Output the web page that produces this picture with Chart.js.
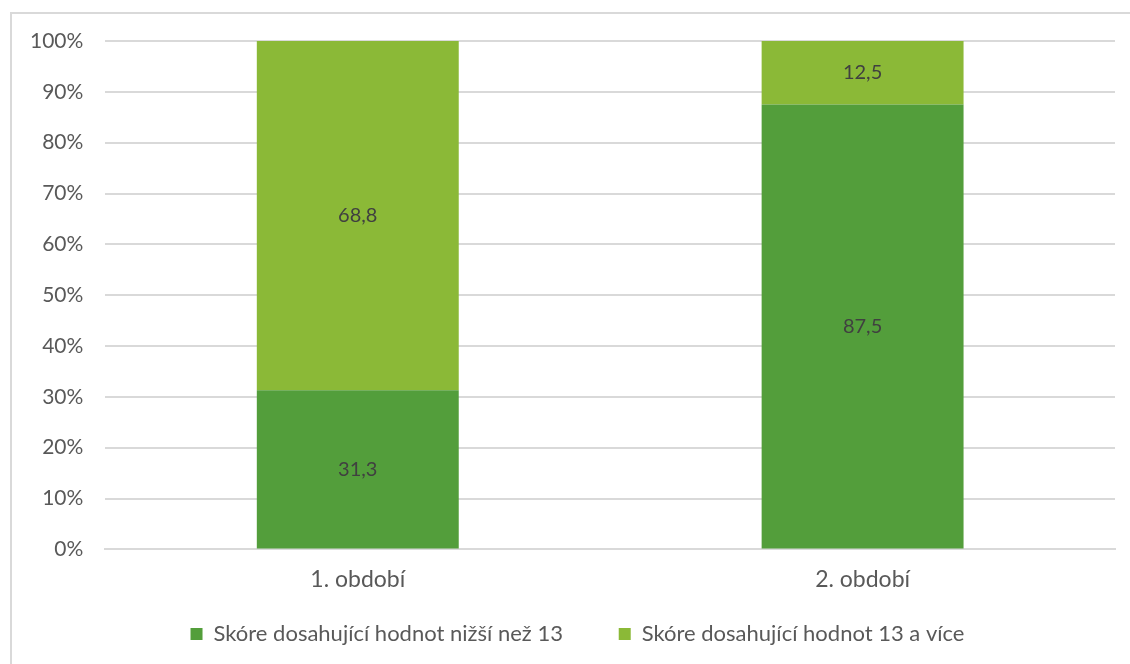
<!DOCTYPE html>
<html>
<head>
<meta charset="utf-8">
<script src="https://cdn.jsdelivr.net/npm/chart.js@4"></script>
<style>
  html, body { margin: 0; padding: 0; background: #fff; }
  #frame { position: absolute; left: 10px; top: 12px; width: 1140px; height: 700px; border: 2px solid #d9d9d9; box-sizing: border-box; }
  #wrap { position: absolute; left: 0; top: 0; width: 1130px; height: 664px; }
</style>
</head>
<body>
<div id="frame"></div>
<div id="wrap"><canvas id="chart"></canvas></div>
<script>
// categories and series (percent)
const periods = ['1. období', '2. období'];
const lowerScores = [31.3, 87.5];
const higherScores = [68.8, 12.5];
const seriesNames = ['Skóre dosahující hodnot nižší než 13', 'Skóre dosahující hodnot 13 a více'];

const darkGreen = '#539e3b';
const lightGreen = '#8bb937';
const textCol = '#595959';

// write values in middle of each bar piece
let valueLabels = {
    id: 'valueLabels',
    afterDatasetsDraw(chart) {
        let ctx = chart.ctx;
        ctx.save();
        ctx.font = '20px Lato';
        ctx.fillStyle = '#404040';
        ctx.textAlign = 'center';
        ctx.textBaseline = 'middle';
        chart.data.datasets.forEach((ds, i) => {
            chart.getDatasetMeta(i).data.forEach((bar, j) => {
                let txt = ds.data[j].toFixed(1).replace('.', ',');
                let y = (bar.y + bar.base) / 2;
                ctx.fillText(txt, bar.x, y);
            })
        })
        ctx.restore();
    }
}

// legend sits a bit right of the canvas centre in the original
let legendShift = {
    id: 'legendShift',
    afterLayout(chart) {
        chart.legend.left += 16;
        chart.legend.right += 16;
    }
}

new Chart(document.getElementById('chart'), {
    type: 'bar',
    data: {
        labels: periods,
        datasets: [
            { label: seriesNames[0], data: lowerScores, backgroundColor: darkGreen, categoryPercentage: 0.4, barPercentage: 1 },
            { label: seriesNames[1], data: higherScores, backgroundColor: lightGreen, categoryPercentage: 0.4, barPercentage: 1 }
        ]
    },
    options: {
        responsive: true,
        maintainAspectRatio: false,
        animation: false,
        layout: { padding: { left: 8, right: 15, top: 41, bottom: 9 } },
        scales: {
            x: {
                stacked: true,
                grid: { display: false },
                border: { color: '#d9d9d9', width: 2 },
                ticks: { color: textCol, font: { family: 'Lato', size: 23 }, padding: 8 }
            },
            y: {
                stacked: true,
                min: 0,
                max: 100,
                border: { display: false },
                grid: { color: '#d9d9d9', lineWidth: 2, drawTicks: false },
                ticks: {
                    stepSize: 10,
                    color: textCol,
                    font: { family: 'Lato', size: 21 },
                    padding: 22,
                    callback: v => v + '%'
                }
            }
        },
        plugins: {
            legend: {
                position: 'bottom',
                labels: {
                    color: textCol,
                    font: { family: 'Lato', size: 22 },
                    boxWidth: 12,
                    boxHeight: 12,
                    padding: 22,
                    // wider gap between the two entries
                    generateLabels: chart => {
                        let items = Chart.defaults.plugins.legend.labels.generateLabels(chart);
                        items[0].text = items[0].text + '      ';
                        return items;
                    }
                }
            },
            tooltip: { enabled: false }
        }
    },
    plugins: [valueLabels, legendShift]
})
</script>
</body>
</html>
